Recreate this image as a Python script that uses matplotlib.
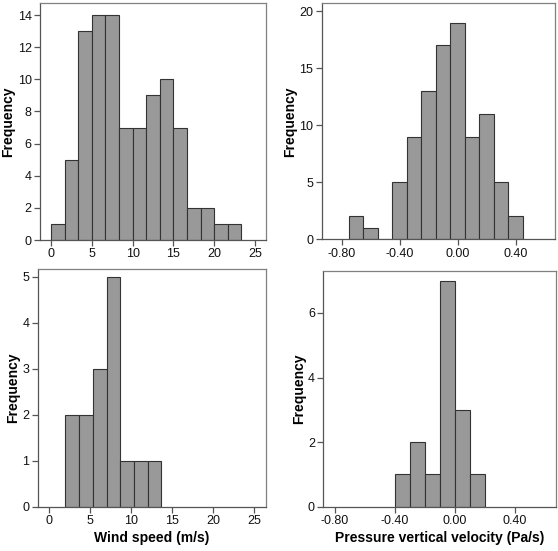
import matplotlib.pyplot as plt
import numpy as np

plt.rcParams['font.family'] = ['Liberation Sans', 'DejaVu Sans']

# wind speed histograms (bin edges and counts)
wind_top_edges = [0, 1.67, 3.33, 5.0, 6.67, 8.33, 10.0, 11.67, 13.33, 15.0, 16.67, 18.33, 20.0, 21.67, 23.33]
wind_top_counts = [1, 5, 13, 14, 14, 7, 7, 9, 10, 7, 2, 2, 1, 1]
wind_bot_edges = [2.0, 3.67, 5.33, 7.0, 8.67, 10.33, 12.0, 13.67]
wind_bot_counts = [2, 2, 3, 5, 1, 1, 1]

# pressure vertical velocity histograms
omega_top_edges = [-0.75, -0.65, -0.55, -0.45, -0.35, -0.25, -0.15, -0.05, 0.05, 0.15, 0.25, 0.35, 0.45]
omega_top_counts = [2, 1, 0, 5, 9, 13, 17, 19, 9, 11, 5, 2]
omega_bot_edges = [-0.4, -0.3, -0.2, -0.1, 0.0, 0.1, 0.2]
omega_bot_counts = [1, 2, 1, 7, 3, 1]

wind_ticks = [0, 5, 10, 15, 20, 25]
omega_ticks = [-0.8, -0.4, 0.0, 0.4]

fig = plt.figure(figsize=(5.58, 5.51), dpi=100)

panels = [
    # edges, counts, axes rect, xlim, ylim, xticks, yticks, xlabel
    (wind_top_edges, wind_top_counts, [0.0717, 0.5644, 0.405, 0.4302], (-1.35, 26.35), (0, 14.75),
     wind_ticks, [0, 2, 4, 6, 8, 10, 12, 14], None),
    (omega_top_edges, omega_top_counts, [0.5765, 0.5657, 0.4181, 0.4283], (-0.938, 0.671), (0, 20.7),
     omega_ticks, [0, 5, 10, 15, 20], None),
    (wind_bot_edges, wind_bot_counts, [0.0676, 0.0804, 0.4091, 0.4314], (-1.38, 26.4), (0, 5.17),
     wind_ticks, [0, 1, 2, 3, 4, 5], 'Wind speed (m/s)'),
    (omega_bot_edges, omega_bot_counts, [0.5794, 0.0804, 0.417, 0.4278], (-0.878, 0.673), (0, 7.3),
     omega_ticks, [0, 2, 4, 6], 'Pressure vertical velocity (Pa/s)'),
]

for i, (edges, counts, rect, xlim, ylim, xt, yt, xlabel) in enumerate(panels):
    ax = fig.add_axes(rect)
    edges = np.array(edges)
    ax.bar(edges[:-1], counts, width=np.diff(edges), align='edge',
           color='#999999', edgecolor='#333333', linewidth=0.8)
    ax.set_xlim(*xlim)
    ax.set_ylim(*ylim)
    ax.set_xticks(xt)
    ax.set_yticks(yt)
    if i % 2 == 1:
        ax.set_xticklabels(['%.2f' % abs(t) if t == 0 else '%.2f' % t for t in xt])
    for s in ax.spines.values():
        s.set_color('#808080')
        s.set_linewidth(0.9)
    ax.spines['left'].set_color('#555555')
    ax.spines['bottom'].set_color('#555555')
    ax.tick_params(direction='out', length=4, width=0.9, color='#555555',
                   labelsize=9, pad=2, labelcolor='#111111')
    ax.set_ylabel('Frequency', fontsize=10, fontweight='bold', labelpad=1.5)
    if xlabel:
        ax.set_xlabel(xlabel, fontsize=10, fontweight='bold', labelpad=3)

fig.savefig('out.png', dpi=100)
